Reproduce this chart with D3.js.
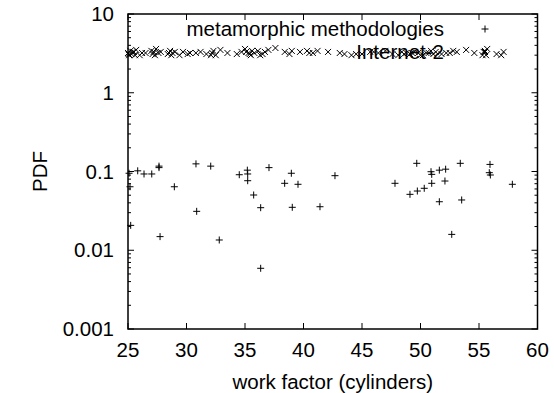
<!DOCTYPE html>
<html>
<head>
<meta charset="utf-8">
<script src="https://cdn.jsdelivr.net/npm/d3@7"></script>
<style>
  body { margin: 0; background: #fff; }
  text { font-family: "Liberation Sans", Arial, sans-serif; fill: #000; }
</style>
</head>
<body>
<svg id="chart" width="554" height="393"></svg>
<script>
// data
const methX = [25.09, 25.17, 25.23, 25.83, 26.37, 27.03, 27.65, 27.65, 27.74, 28.96,
  30.81, 30.87, 32.07, 32.80, 34.51, 35.20, 35.23, 35.23, 35.74, 36.34,
  36.34, 37.05, 38.39, 38.96, 39.04, 39.53, 41.41, 42.69, 47.82, 49.10,
  49.68, 49.73, 50.32, 50.90, 50.96, 50.96, 51.61, 51.61, 52.15, 52.09,
  52.67, 53.40, 53.52, 55.94, 55.88, 55.97, 57.85];
const methY = [0.095, 0.064, 0.0207, 0.102, 0.093, 0.093, 0.117, 0.112, 0.0149, 0.064,
  0.125, 0.0312, 0.117, 0.0135, 0.091, 0.104, 0.093, 0.0764, 0.0503, 0.0347,
  0.0059, 0.112, 0.0708, 0.095, 0.0351, 0.0688, 0.0357, 0.0885, 0.0708, 0.0513,
  0.127, 0.0565, 0.0612, 0.0994, 0.092, 0.0708, 0.104, 0.0413, 0.107, 0.0757,
  0.0159, 0.127, 0.0435, 0.123, 0.0966, 0.0903, 0.0688];

const netX = [25.0, 25.05, 25.1, 25.2, 25.3, 25.4, 25.5, 25.6, 25.7, 26.0,
  26.2, 26.5, 27.0, 27.1, 27.2, 27.3, 27.4, 27.6, 27.8, 28.4,
  28.5, 28.6, 28.7, 28.8, 29.0, 29.4, 29.7, 30.1, 30.3, 30.8,
  31.2, 31.7, 32.1, 32.2, 32.3, 32.5, 32.9, 33.5, 34.3, 34.7,
  35.0, 35.1, 35.3, 35.4, 35.5, 35.6, 35.8, 36.1, 36.3, 36.5,
  36.7, 37.0, 37.6, 38.4, 38.8, 39.0, 39.7, 40.3, 40.5, 40.8,
  41.2, 42.1, 43.1, 43.5, 44.1, 44.5, 45.0, 45.7, 46.0, 46.4,
  47.0, 47.6, 48.1, 48.4, 48.6, 48.8, 49.1, 49.3, 49.5, 49.8,
  50.0, 50.2, 50.5, 50.7, 50.9, 51.1, 51.3, 51.8, 52.2, 52.5,
  52.8, 53.1, 53.9, 54.6, 55.3, 55.4, 55.5, 55.6, 55.7, 56.5,
  56.9, 57.1];
const netY = [3.2, 3.1, 3.0, 3.4, 3.1, 3.3, 3.3, 3.0, 3.5, 3.0,
  3.2, 3.2, 3.4, 3.1, 3.3, 3.0, 3.6, 3.2, 3.3, 3.1,
  3.2, 3.4, 3.0, 3.2, 3.3, 3.0, 3.3, 3.1, 3.2, 3.2,
  3.3, 3.1, 3.0, 3.2, 3.4, 3.0, 3.5, 3.2, 3.1, 3.3,
  3.6, 3.3, 3.2, 3.1, 3.0, 3.4, 3.2, 3.4, 3.0, 3.1,
  3.3, 3.5, 3.7, 3.3, 3.1, 3.4, 3.3, 3.4, 3.2, 3.2,
  3.4, 3.3, 3.2, 3.1, 3.0, 3.1, 3.1, 3.3, 3.3, 3.2,
  3.4, 3.1, 3.0, 3.3, 3.1, 3.2, 3.1, 3.2, 3.3, 3.2,
  3.0, 3.0, 3.2, 3.2, 3.4, 3.1, 3.3, 3.1, 3.2, 3.2,
  3.4, 3.3, 3.5, 3.2, 3.0, 3.3, 3.4, 3.0, 3.6, 3.1,
  3.0, 3.3];

const xTicks = [25, 30, 35, 40, 45, 50, 55, 60];
const yTicks = [0.001, 0.01, 0.1, 1, 10];
const yTickLabels = ["0.001", "0.01", "0.1", "1", "10"];
const seriesNames = ["metamorphic methodologies", "Internet-2"];

const W = 554, H = 393;
const margin = { top: 14, right: 16.5, bottom: 64, left: 128 };
const fs = 20.5;
const svg = d3.select("#chart");

const x = d3.scaleLinear().domain([25, 60]).range([margin.left, W - margin.right]);
const y = d3.scaleLog().domain([0.001, 10]).range([H - margin.bottom, margin.top]);

// minor log ticks 2..9 per decade
const minorY = [];
[0.001, 0.01, 0.1, 1].forEach(d => { for (let k = 2; k <= 9; k++) minorY.push(d * k); });

const axes = svg.append("g").attr("stroke", "#000").attr("stroke-width", 1);
const x0 = x.range()[0], x1 = x.range()[1], y0 = y.range()[0], y1 = y.range()[1];

// inward ticks, mirrored on all sides
xTicks.forEach(t => {
  axes.append("line").attr("x1", x(t)).attr("x2", x(t)).attr("y1", y0).attr("y2", y0 - 6);
  axes.append("line").attr("x1", x(t)).attr("x2", x(t)).attr("y1", y1).attr("y2", y1 + 6);
});
yTicks.forEach(t => {
  axes.append("line").attr("x1", x0).attr("x2", x0 + 6).attr("y1", y(t)).attr("y2", y(t));
  axes.append("line").attr("x1", x1).attr("x2", x1 - 6).attr("y1", y(t)).attr("y2", y(t));
});
minorY.forEach(t => {
  axes.append("line").attr("x1", x0).attr("x2", x0 + 3).attr("y1", y(t)).attr("y2", y(t));
  axes.append("line").attr("x1", x1).attr("x2", x1 - 3).attr("y1", y(t)).attr("y2", y(t));
});

axes.append("rect")
  .attr("x", x0).attr("y", y1)
  .attr("width", x1 - x0).attr("height", y0 - y1)
  .attr("fill", "none").attr("stroke-width", 1.5);

// tick labels
svg.append("g").selectAll("text").data(xTicks).join("text")
  .attr("x", d => x(d)).attr("y", y0 + 28)
  .attr("text-anchor", "middle").attr("font-size", fs)
  .text(d => d);
svg.append("g").selectAll("text").data(yTicks).join("text")
  .attr("x", x0 - 14).attr("y", d => y(d) + 7)
  .attr("text-anchor", "end").attr("font-size", fs)
  .text((d, i) => yTickLabels[i]);

// axis titles
svg.append("text")
  .attr("x", (x0 + x1) / 2).attr("y", y0 + 60)
  .attr("text-anchor", "middle").attr("font-size", fs)
  .text("work factor (cylinders)");
svg.append("text")
  .attr("transform", `translate(47,${(y0 + y1) / 2}) rotate(-90)`)
  .attr("text-anchor", "middle").attr("font-size", fs)
  .text("PDF");

// point symbols
const plus = (g, px, py) => g.append("path")
  .attr("d", `M${px - 3.5},${py}H${px + 3.5}M${px},${py - 3.5}V${py + 3.5}`);
const cross = (g, px, py) => g.append("path")
  .attr("d", `M${px - 3},${py - 3}L${px + 3},${py + 3}M${px - 3},${py + 3}L${px + 3},${py - 3}`);

const gMeth = svg.append("g").attr("stroke", "#000").attr("stroke-width", 1).attr("fill", "none");
methX.forEach((v, i) => plus(gMeth, x(v), y(methY[i])));

const gNet = svg.append("g").attr("stroke", "#000").attr("stroke-width", 1).attr("fill", "none");
netX.forEach((v, i) => cross(gNet, x(v), y(netY[i])));

// key, top right: label right-aligned, then sample symbol
const keyTextX = 444, keySymX = 485;
const keyRows = [29, 52];
svg.append("text").attr("x", keyTextX).attr("y", keyRows[0] + 7)
  .attr("text-anchor", "end").attr("font-size", fs).text(seriesNames[0]);
plus(gMeth, keySymX, keyRows[0]);
svg.append("text").attr("x", keyTextX).attr("y", keyRows[1] + 7)
  .attr("text-anchor", "end").attr("font-size", fs).text(seriesNames[1]);
cross(gNet, keySymX, keyRows[1]);
</script>
</body>
</html>
